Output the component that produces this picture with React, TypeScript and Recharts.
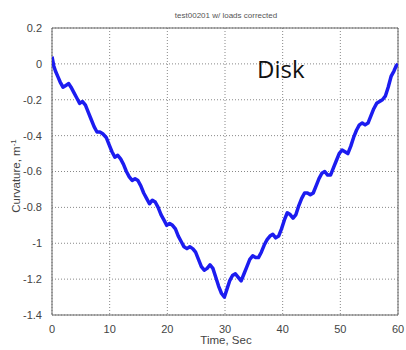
import React from "react";
import {
  LineChart,
  Line,
  XAxis,
  YAxis,
  CartesianGrid,
  ReferenceArea,
} from "recharts";

// Time samples (s) and measured curvature (1/m)
const timeSec: number[] = [
  0, 0.3, 0.6, 1.0, 1.4, 1.9, 2.4, 2.9, 3.3, 3.8, 4.3, 4.8, 5.3, 5.8, 6.3, 6.8,
  7.3, 7.8, 8.3, 8.8, 9.4, 9.9, 10.4, 10.9, 11.4, 11.9, 12.4, 12.9, 13.4, 13.9,
  14.4, 14.9, 15.4, 15.9, 16.4, 16.9, 17.4, 17.9, 18.4, 18.9, 19.4, 19.9, 20.4,
  20.9, 21.4, 21.9, 22.4, 22.9, 23.4, 23.9, 24.4, 24.9, 25.4, 25.9, 26.4, 26.9,
  27.4, 27.9, 28.4, 28.9, 29.4, 29.9, 30.3, 30.8, 31.3, 31.8, 32.3, 32.8, 33.3,
  33.8, 34.3, 34.8, 35.3, 35.8, 36.3, 36.8, 37.3, 37.8, 38.3, 38.8, 39.3, 39.8,
  40.3, 40.8, 41.3, 41.8, 42.3, 42.8, 43.3, 43.8, 44.3, 44.8, 45.3, 45.8, 46.3,
  46.8, 47.3, 47.8, 48.3, 48.8, 49.3, 49.8, 50.3, 50.8, 51.3, 51.8, 52.3, 52.8,
  53.3, 53.8, 54.3, 54.8, 55.3, 55.8, 56.3, 56.8, 57.3, 57.8, 58.3, 58.8, 59.3,
  59.7, 60,
];

const curvature: number[] = [
  0.04, -0.01, -0.04, -0.07, -0.1, -0.13, -0.12, -0.11, -0.13, -0.16, -0.19,
  -0.22, -0.21, -0.23, -0.27, -0.31, -0.35, -0.38, -0.38, -0.39, -0.41, -0.45,
  -0.49, -0.52, -0.51, -0.53, -0.56, -0.6, -0.63, -0.65, -0.64, -0.65, -0.68,
  -0.72, -0.75, -0.78, -0.76, -0.77, -0.8, -0.84, -0.87, -0.9, -0.89, -0.9,
  -0.92, -0.96, -0.99, -1.02, -1.03, -1.02, -1.03, -1.05, -1.09, -1.13, -1.15,
  -1.14, -1.12, -1.14, -1.19, -1.24, -1.28, -1.3, -1.26, -1.21, -1.18, -1.17,
  -1.19, -1.21, -1.17, -1.13, -1.09, -1.07, -1.08, -1.08, -1.05, -1.01, -0.98,
  -0.96, -0.95, -0.97, -0.96, -0.92, -0.87, -0.83, -0.84, -0.86, -0.84, -0.79,
  -0.75, -0.72, -0.72, -0.73, -0.72, -0.68, -0.64, -0.61, -0.6, -0.62, -0.62,
  -0.58, -0.54, -0.5, -0.48, -0.49, -0.5, -0.46, -0.41, -0.37, -0.34, -0.33,
  -0.34, -0.33, -0.29, -0.25, -0.22, -0.21, -0.2, -0.18, -0.13, -0.07, -0.04,
  -0.01, 0.0,
];

const xTicks: number[] = [0, 10, 20, 30, 40, 50, 60];
const yTicks: number[] = [0.2, 0, -0.2, -0.4, -0.6, -0.8, -1, -1.2, -1.4];

const chartTitle = "test00201 w/ loads corrected";
const annotation = "Disk";
const xLabel = "Time, Sec";

const data = timeSec.map((t, i) => ({ t, k: curvature[i] }));

const tickFont = {
  fontFamily: "Liberation Sans, Arial, sans-serif",
  fontSize: 11,
  fill: "#444",
};

const fmt = (v: number) => String(Number(v.toFixed(1)));

export default function App() {
  return (
    <div
      style={{
        position: "absolute",
        left: 0,
        top: 0,
        width: 406,
        height: 350,
        background: "#fff",
      }}
    >
      <LineChart
        width={406}
        height={350}
        data={data}
        margin={{ top: 28, right: 8, left: 0, bottom: 0 }}
      >
        <CartesianGrid
          stroke="#888"
          strokeDasharray="1 2"
          horizontalValues={yTicks}
          verticalValues={xTicks}
        />
        <XAxis
          dataKey="t"
          type="number"
          domain={[0, 60]}
          ticks={xTicks}
          interval={0}
          height={35}
          tick={tickFont}
          tickLine={false}
          axisLine={false}
          tickMargin={4}
          allowDataOverflow
        />
        <YAxis
          type="number"
          domain={[-1.4, 0.2]}
          ticks={yTicks}
          interval={0}
          width={52}
          tick={tickFont}
          tickLine={false}
          axisLine={false}
          tickMargin={4}
          tickFormatter={fmt}
          allowDataOverflow
        />
        <ReferenceArea
          x1={0}
          x2={60}
          y1={-1.4}
          y2={0.2}
          fill="none"
          stroke="#666"
          strokeWidth={1}
        />
        <Line
          type="linear"
          dataKey="k"
          stroke="#1c1cf0"
          strokeWidth={3.5}
          dot={false}
          isAnimationActive={false}
          strokeLinejoin="round"
        />
        <text
          x={226}
          y={18}
          textAnchor="middle"
          fontFamily="Liberation Sans, Arial, sans-serif"
          fontSize={8}
          fill="#555"
        >
          {chartTitle}
        </text>
        <text
          x={257}
          y={78}
          fontFamily="Open Sans, sans-serif"
          fontSize={24}
          fill="#111"
        >
          {annotation}
        </text>
        <text
          x={226}
          y={344}
          textAnchor="middle"
          fontFamily="Liberation Sans, Arial, sans-serif"
          fontSize={11.5}
          fill="#444"
        >
          {xLabel}
        </text>
        <text
          transform="translate(20,176) rotate(-90)"
          textAnchor="middle"
          fontFamily="Liberation Sans, Arial, sans-serif"
          fontSize={11.5}
          fill="#444"
        >
          Curvature, m
          <tspan dy={-4} fontSize={8}>
            -1
          </tspan>
        </text>
      </LineChart>
    </div>
  );
}
